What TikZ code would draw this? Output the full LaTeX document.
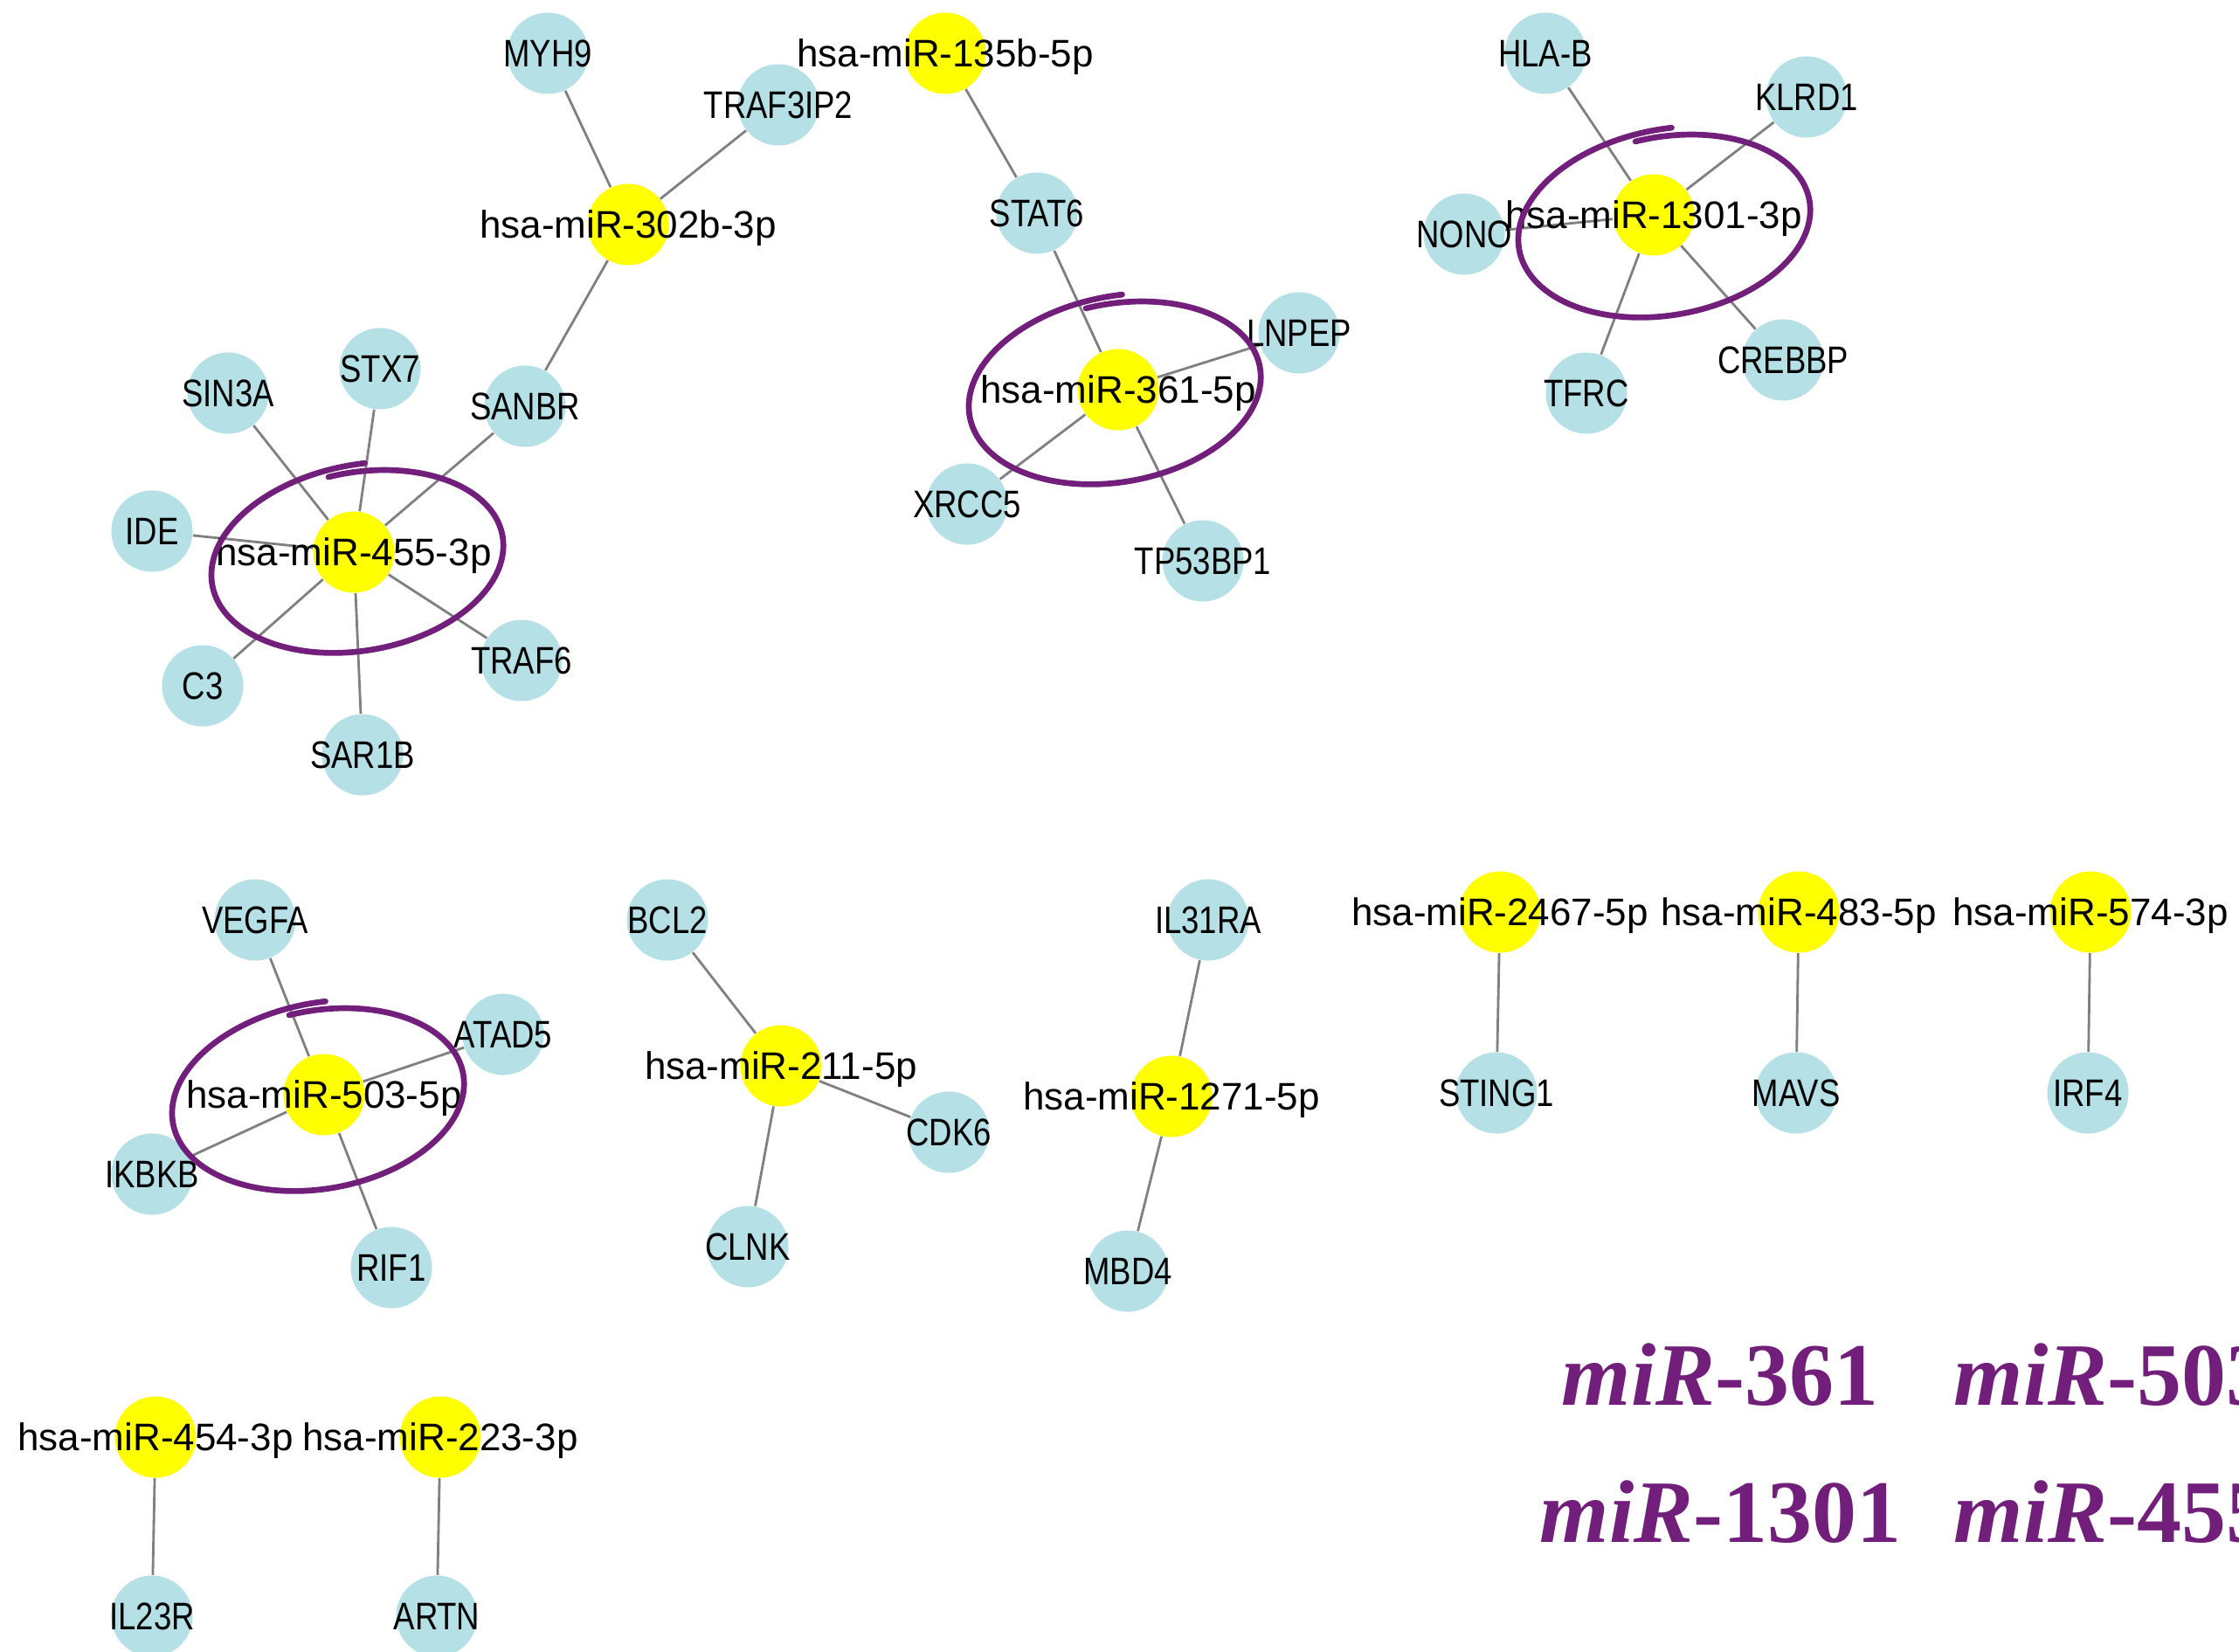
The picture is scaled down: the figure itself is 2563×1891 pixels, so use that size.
\documentclass[tikz,border=0pt]{standalone}
\usepackage{fontspec}
\setmainfont{Liberation Sans}
\newfontfamily\genefont[FakeStretch=0.83]{Liberation Sans}
\newfontfamily\mirfont{Liberation Sans}
\newfontfamily\bigserif{Liberation Serif}
\usetikzlibrary{backgrounds}
\definecolor{genecol}{RGB}{180,224,230}
\definecolor{mircol}{RGB}{255,255,0}
\definecolor{edgecol}{RGB}{128,128,128}
\definecolor{purp}{RGB}{114,31,123}
\tikzset{
  gene/.style={circle, fill=genecol, draw=none, minimum size=0.93cm, inner sep=0pt},
  mir/.style={circle, fill=mircol, draw=none, minimum size=0.93cm, inner sep=0pt},
  glabel/.style={font=\genefont\fontsize{12.5}{15}\selectfont, anchor=base, inner sep=0pt, yshift=-4.5pt},
  mlabel/.style={font=\mirfont\fontsize{12.5}{15}\selectfont, anchor=base, inner sep=0pt, yshift=-4.5pt},
  link/.style={draw=edgecol, line width=0.8pt},
  loopline/.style={draw=purp, line width=1.9pt, line cap=round, line join=round},
  bigtxt/.style={font=\bigserif\bfseries\fontsize{29}{35}\selectfont, text=purp, anchor=base west, inner sep=0pt}
}
\newcommand\handloop[2]{%
  \begin{scope}[shift={(#1,#2)}, rotate=10]
    \draw[loopline] plot[domain=0:1, samples=160, smooth, variable=\q]
      ({168*(0.985+0.085*\q*\q*\q)*cos(96.5-374.6*\q)},
       {-103*(0.985+0.085*\q*\q*\q)*sin(96.5-374.6*\q)});
  \end{scope}}
\begin{document}
\begin{tikzpicture}[x=0.01cm, y=-0.01cm]
\useasboundingbox (0,0) rectangle (2563,1891);
% circles
\node[gene] (myh9) at (627,61) {};
\node[gene] (traf3ip2) at (891,120) {};
\node[mir] (m302) at (719,257) {};
\node[mir] (m135) at (1082,61) {};
\node[gene] (stat6) at (1187,244) {};
\node[mir] (m361) at (1280,446) {};
\node[gene] (lnpep) at (1487,381) {};
\node[gene] (xrcc5) at (1107,577) {};
\node[gene] (tp53bp1) at (1377,642) {};
\node[gene] (hlab) at (1769,61) {};
\node[gene] (klrd1) at (2068,111) {};
\node[gene] (nono) at (1676,268) {};
\node[mir] (m1301) at (1893,246) {};
\node[gene] (tfrc) at (1816,450) {};
\node[gene] (crebbp) at (2041,412) {};
\node[gene] (sin3a) at (261,450) {};
\node[gene] (stx7) at (435,422) {};
\node[gene] (sanbr) at (601,465) {};
\node[gene] (ide) at (174,608) {};
\node[mir] (m455) at (405,632) {};
\node[gene] (c3) at (232,785) {};
\node[gene] (traf6) at (597,756) {};
\node[gene] (sar1b) at (415,864) {};
\node[gene] (vegfa) at (292,1053) {};
\node[gene] (atad5) at (576,1184) {};
\node[mir] (m503) at (371,1253) {};
\node[gene] (ikbkb) at (174,1344) {};
\node[gene] (rif1) at (448,1451) {};
\node[gene] (bcl2) at (764,1053) {};
\node[mir] (m211) at (894,1220) {};
\node[gene] (cdk6) at (1086,1296) {};
\node[gene] (clnk) at (856,1427) {};
\node[gene] (il31ra) at (1383,1053) {};
\node[mir] (m1271) at (1341,1255) {};
\node[gene] (mbd4) at (1291,1455) {};
\node[mir] (m2467) at (1717,1044) {};
\node[gene] (sting1) at (1713,1251) {};
\node[mir] (m483) at (2059,1044) {};
\node[gene] (mavs) at (2056,1251) {};
\node[mir] (m574) at (2393,1044) {};
\node[gene] (irf4) at (2390,1251) {};
\node[mir] (m454) at (178,1645) {};
\node[gene] (il23r) at (174,1850) {};
\node[mir] (m223) at (504,1645) {};
\node[gene] (artn) at (500,1850) {};
% edges
\begin{scope}[on background layer]
\fill[white] (0,0) rectangle (2563,1891);
\draw[link] (m302) -- (myh9);
\draw[link] (m302) -- (traf3ip2);
\draw[link] (m302) -- (sanbr);
\draw[link] (m135) -- (stat6);
\draw[link] (m361) -- (stat6);
\draw[link] (m361) -- (lnpep);
\draw[link] (m361) -- (xrcc5);
\draw[link] (m361) -- (tp53bp1);
\draw[link] (m1301) -- (hlab);
\draw[link] (m1301) -- (klrd1);
\draw[link] (m1301) -- (nono);
\draw[link] (m1301) -- (tfrc);
\draw[link] (m1301) -- (crebbp);
\draw[link] (m455) -- (sin3a);
\draw[link] (m455) -- (stx7);
\draw[link] (m455) -- (sanbr);
\draw[link] (m455) -- (ide);
\draw[link] (m455) -- (c3);
\draw[link] (m455) -- (traf6);
\draw[link] (m455) -- (sar1b);
\draw[link] (m503) -- (vegfa);
\draw[link] (m503) -- (atad5);
\draw[link] (m503) -- (ikbkb);
\draw[link] (m503) -- (rif1);
\draw[link] (m211) -- (bcl2);
\draw[link] (m211) -- (cdk6);
\draw[link] (m211) -- (clnk);
\draw[link] (m1271) -- (il31ra);
\draw[link] (m1271) -- (mbd4);
\draw[link] (m2467) -- (sting1);
\draw[link] (m483) -- (mavs);
\draw[link] (m574) -- (irf4);
\draw[link] (m454) -- (il23r);
\draw[link] (m223) -- (artn);
\end{scope}
% labels
\node[glabel] (tmyh9) at (myh9) {MYH9};
\node[glabel] (ttraf3ip2) at (traf3ip2) {TRAF3IP2};
\node[mlabel] (tm302) at (m302) {hsa-miR-302b-3p};
\node[mlabel] (tm135) at (m135) {hsa-miR-135b-5p};
\node[glabel] (tstat6) at (stat6) {STAT6};
\node[mlabel] (tm361) at (m361) {hsa-miR-361-5p};
\node[glabel] (tlnpep) at (lnpep) {LNPEP};
\node[glabel] (txrcc5) at (xrcc5) {XRCC5};
\node[glabel] (ttp53bp1) at (tp53bp1) {TP53BP1};
\node[glabel] (thlab) at (hlab) {HLA-B};
\node[glabel] (tklrd1) at (klrd1) {KLRD1};
\node[glabel] (tnono) at (nono) {NONO};
\node[mlabel] (tm1301) at (m1301) {hsa-miR-1301-3p};
\node[glabel] (ttfrc) at (tfrc) {TFRC};
\node[glabel] (tcrebbp) at (crebbp) {CREBBP};
\node[glabel] (tsin3a) at (sin3a) {SIN3A};
\node[glabel] (tstx7) at (stx7) {STX7};
\node[glabel] (tsanbr) at (sanbr) {SANBR};
\node[glabel] (tide) at (ide) {IDE};
\node[mlabel] (tm455) at (m455) {hsa-miR-455-3p};
\node[glabel] (tc3) at (c3) {C3};
\node[glabel] (ttraf6) at (traf6) {TRAF6};
\node[glabel] (tsar1b) at (sar1b) {SAR1B};
\node[glabel] (tvegfa) at (vegfa) {VEGFA};
\node[glabel] (tatad5) at (atad5) {ATAD5};
\node[mlabel] (tm503) at (m503) {hsa-miR-503-5p};
\node[glabel] (tikbkb) at (ikbkb) {IKBKB};
\node[glabel] (trif1) at (rif1) {RIF1};
\node[glabel] (tbcl2) at (bcl2) {BCL2};
\node[mlabel] (tm211) at (m211) {hsa-miR-211-5p};
\node[glabel] (tcdk6) at (cdk6) {CDK6};
\node[glabel] (tclnk) at (clnk) {CLNK};
\node[glabel] (til31ra) at (il31ra) {IL31RA};
\node[mlabel] (tm1271) at (m1271) {hsa-miR-1271-5p};
\node[glabel] (tmbd4) at (mbd4) {MBD4};
\node[mlabel] (tm2467) at (m2467) {hsa-miR-2467-5p};
\node[glabel] (tsting1) at (sting1) {STING1};
\node[mlabel] (tm483) at (m483) {hsa-miR-483-5p};
\node[glabel] (tmavs) at (mavs) {MAVS};
\node[mlabel] (tm574) at (m574) {hsa-miR-574-3p};
\node[glabel] (tirf4) at (irf4) {IRF4};
\node[mlabel] (tm454) at (m454) {hsa-miR-454-3p};
\node[glabel] (til23r) at (il23r) {IL23R};
\node[mlabel] (tm223) at (m223) {hsa-miR-223-3p};
\node[glabel] (tartn) at (artn) {ARTN};
% hand-drawn loops
\handloop{412}{642}
\handloop{1279}{449}
\handloop{1908}{258}
\handloop{367}{1258}
% big text
\begin{scope}
\clip (0,0) rectangle (2563,1891);
\node[bigtxt] (b361) at (1787,1608) {\textit{miR}-361};
\node[bigtxt] (b503) at (2236,1608) {\textit{miR}-503};
\node[bigtxt] (b1301) at (1762,1765) {\textit{miR}-1301};
\node[bigtxt] (b455) at (2236,1765) {\textit{miR}-455};
\end{scope}
\end{tikzpicture}
\end{document}
